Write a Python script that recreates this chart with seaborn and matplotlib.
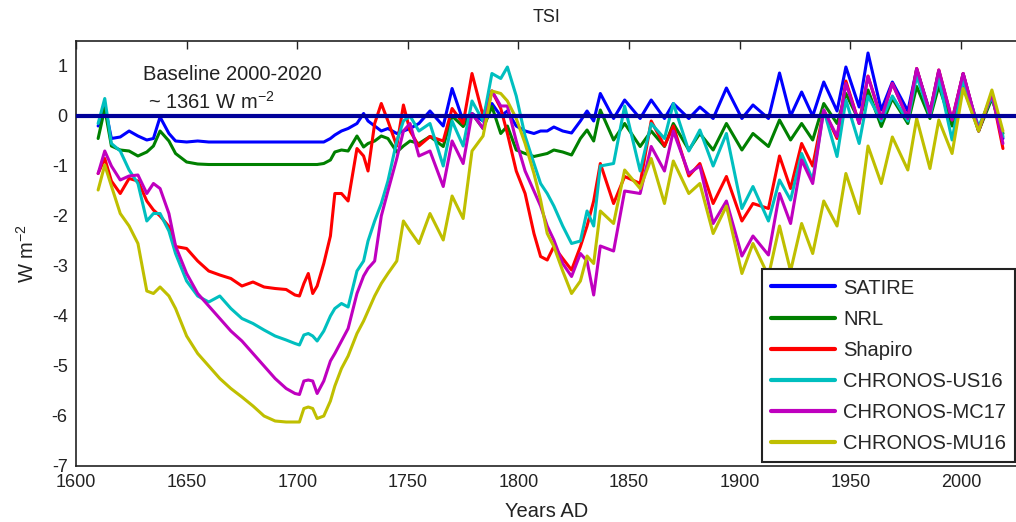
import numpy as np
import pandas as pd
import matplotlib
matplotlib.use("Agg")
import matplotlib.pyplot as plt
import seaborn as sns

years = [1610, 1613, 1616, 1620, 1624, 1628, 1632, 1635, 1638, 1642, 1645, 1650,
         1655, 1660, 1665, 1670, 1675, 1680, 1685, 1690, 1695, 1699, 1701, 1703,
         1705, 1707, 1709, 1712, 1715, 1717, 1720, 1723, 1727, 1730, 1732, 1735,
         1738, 1741, 1745, 1748, 1751, 1755, 1760, 1766, 1770, 1775, 1779, 1784,
         1788, 1792, 1795, 1799, 1803, 1807, 1810, 1813, 1816, 1820, 1824, 1828,
         1831, 1834, 1837, 1843, 1848, 1855, 1860, 1866, 1870, 1877, 1882, 1888,
         1894, 1901, 1906, 1913, 1918, 1923, 1928, 1933, 1938, 1944, 1948, 1954,
         1958, 1964, 1969, 1976, 1980, 1986, 1990, 1996, 2001, 2008, 2014, 2019]

satire = [-0.2, 0.2, -0.45, -0.42, -0.3, -0.4, -0.48, -0.45, -0.02, -0.35, -0.5, -0.52,
          -0.5, -0.52, -0.52, -0.52, -0.52, -0.52, -0.52, -0.52, -0.52, -0.52, -0.52, -0.52,
          -0.52, -0.52, -0.52, -0.52, -0.45, -0.38, -0.3, -0.25, -0.15, 0.05, -0.1, -0.2,
          -0.3, -0.25, -0.35, -0.3, -0.25, -0.15, 0.1, -0.2, 0.55, -0.1, 0.05, -0.1,
          0.25, 0.0, 0.1, -0.2, -0.3, -0.35, -0.3, -0.3, -0.22, -0.3, -0.34, -0.1,
          0.1, -0.1, 0.45, -0.05, 0.32, -0.05, 0.32, -0.05, 0.25, -0.05, 0.18, -0.05,
          0.56, -0.05, 0.22, -0.05, 0.86, 0.0, 0.48, 0.0, 0.68, 0.1, 0.98, 0.18,
          1.26, 0.12, 0.68, 0.1, 0.94, 0.08, 0.9, -0.12, 0.85, -0.3, 0.45, -0.45]

nrl = [-0.45, 0.15, -0.6, -0.68, -0.7, -0.8, -0.72, -0.6, -0.3, -0.5, -0.75, -0.92,
       -0.96, -0.97, -0.97, -0.97, -0.97, -0.97, -0.97, -0.97, -0.97, -0.97, -0.97, -0.97,
       -0.97, -0.97, -0.97, -0.95, -0.88, -0.72, -0.68, -0.7, -0.4, -0.62, -0.55, -0.5,
       -0.4, -0.45, -0.72, -0.6, -0.5, -0.55, -0.41, -0.61, 0.0, -0.21, 0.05, -0.25,
       0.19, -0.35, -0.2, -0.68, -0.75, -0.81, -0.78, -0.75, -0.68, -0.72, -0.78, -0.45,
       -0.28, -0.5, 0.12, -0.48, -0.15, -0.61, -0.3, -0.61, -0.15, -0.68, -0.35, -0.68,
       -0.15, -0.68, -0.35, -0.61, -0.08, -0.48, -0.15, -0.48, 0.25, -0.15, 0.45, -0.1,
       0.52, -0.21, 0.35, -0.15, 0.59, -0.05, 0.6, -0.2, 0.6, -0.3, 0.35, -0.35]

shapiro = [-1.15, -0.85, -1.3, -1.55, -1.25, -1.3, -1.7, -1.88, -2.0, -2.21, -2.61, -2.65,
           -2.9, -3.1, -3.18, -3.25, -3.4, -3.32, -3.42, -3.45, -3.47, -3.58, -3.6, -3.35,
           -3.15, -3.55, -3.4, -2.95, -2.4, -1.55, -1.55, -1.7, -0.65, -0.8, -1.1, -0.15,
           0.25, -0.1, -0.6, 0.22, -0.3, -0.6, -0.41, -0.5, 0.15, -0.15, 0.85, 0.0,
           0.5, 0.15, -0.35, -1.1, -1.55, -2.35, -2.81, -2.88, -2.61, -2.85, -3.08, -2.61,
           -2.2, -1.7, -0.95, -1.75, -1.21, -1.35, -0.1, -0.6, -0.2, -1.2, -0.95, -1.75,
           -1.21, -2.1, -1.75, -1.85, -0.8, -1.45, -0.55, -1.0, 0.12, -0.45, 0.7, -0.15,
           0.8, -0.05, 0.65, -0.05, 0.95, 0.05, 0.92, -0.08, 0.85, -0.3, 0.45, -0.65]

chronos_us16 = [-0.15, 0.35, -0.55, -0.7, -1.08, -1.35, -2.1, -1.95, -1.95, -2.3, -2.75, -3.3,
                -3.6, -3.72, -3.6, -3.85, -4.05, -4.15, -4.28, -4.4, -4.48, -4.55, -4.58, -4.38,
                -4.35, -4.4, -4.5, -4.3, -4.0, -3.85, -3.75, -3.82, -3.1, -2.9, -2.5, -2.1,
                -1.75, -1.3, -0.5, -0.1, 0.0, -0.3, -0.15, -1.0, -0.1, -0.6, 0.3, -0.1,
                0.85, 0.75, 0.98, 0.4, -0.4, -0.95, -1.35, -1.55, -1.8, -2.2, -2.55, -2.5,
                -1.9, -2.2, -1.0, -0.95, 0.2, -1.1, -0.15, -0.45, 0.25, -0.7, -0.28, -1.0,
                -0.35, -1.85, -1.41, -2.1, -1.28, -1.68, -0.75, -1.28, 0.12, -0.81, 0.32, -0.55,
                0.4, -0.1, 0.4, -0.1, 0.8, 0.0, 0.75, -0.48, 0.72, -0.21, 0.39, -0.41]

chronos_mc17 = [-1.15, -0.7, -1.0, -1.28, -1.2, -1.18, -1.55, -1.35, -1.45, -1.95, -2.6, -3.15,
                -3.55, -3.8, -4.05, -4.3, -4.5, -4.75, -5.0, -5.25, -5.45, -5.55, -5.57, -5.3,
                -5.28, -5.3, -5.55, -5.3, -4.9, -4.75, -4.5, -4.25, -3.55, -3.2, -3.05, -2.9,
                -2.0, -1.5, -0.85, -0.3, -0.15, -0.8, -0.7, -1.41, -0.5, -0.95, 0.05, -0.25,
                0.5, 0.2, 0.2, -0.5, -1.1, -1.5, -1.8, -2.2, -2.48, -2.95, -3.21, -2.75,
                -2.9, -3.58, -2.6, -2.7, -1.5, -1.55, -0.61, -1.1, -0.3, -1.15, -1.0, -2.15,
                -1.7, -2.8, -2.4, -2.78, -1.55, -2.15, -0.88, -1.35, 0.12, -0.41, 0.65, -0.15,
                0.79, -0.05, 0.65, -0.05, 0.95, 0.05, 0.92, -0.08, 0.85, -0.28, 0.45, -0.55]

chronos_mu16 = [-1.48, -0.98, -1.4, -1.95, -2.2, -2.55, -3.5, -3.55, -3.42, -3.6, -3.85, -4.4,
                -4.75, -5.0, -5.25, -5.45, -5.62, -5.8, -6.0, -6.1, -6.12, -6.12, -6.12, -5.85,
                -5.82, -5.85, -6.05, -6.0, -5.7, -5.4, -5.05, -4.8, -4.35, -4.1, -3.9, -3.6,
                -3.35, -3.15, -2.9, -2.1, -2.3, -2.55, -1.95, -2.48, -1.6, -2.05, -0.7, -0.4,
                0.5, 0.45, 0.3, -0.05, -0.55, -1.15, -1.68, -2.35, -2.61, -3.1, -3.55, -3.3,
                -2.8, -2.95, -1.9, -2.15, -1.08, -1.45, -0.85, -1.75, -0.9, -1.55, -1.35, -2.35,
                -1.8, -3.15, -2.55, -3.2, -2.2, -3.1, -2.15, -2.75, -1.7, -2.2, -1.15, -1.95,
                -0.6, -1.35, -0.42, -1.08, -0.05, -1.05, -0.08, -0.75, 0.55, -0.3, 0.52, -0.3]

model_names = ["SATIRE", "NRL", "Shapiro", "CHRONOS-US16", "CHRONOS-MC17", "CHRONOS-MU16"]
model_values = [satire, nrl, shapiro, chronos_us16, chronos_mc17, chronos_mu16]
model_colors = [(0, 0, 1), (0, 0.5, 0), (1, 0, 0), (0, 0.75, 0.75), (0.75, 0, 0.75), (0.75, 0.75, 0)]

xticks = [1600, 1650, 1700, 1750, 1800, 1850, 1900, 1950, 2000]
yticks = [-7, -6, -5, -4, -3, -2, -1, 0, 1]

df = pd.concat([pd.DataFrame({"year": years, "tsi": v, "model": n})
                for n, v in zip(model_names, model_values)], ignore_index=True)

sns.set_theme(style="white")
plt.rcParams["font.family"] = ["Liberation Sans", "DejaVu Sans"]
plt.rcParams["axes.unicode_minus"] = False
plt.rcParams["mathtext.default"] = "regular"

FS = 13
FS2 = 14.5
TXT = "#222222"
fig = plt.figure(figsize=(10.16, 5.22), dpi=100)
ax = fig.add_axes([76 / 1016, 1 - 466 / 522, 942 / 1016, 425 / 522])

sns.lineplot(data=df, x="year", y="tsi", hue="model", hue_order=model_names,
             palette=dict(zip(model_names, model_colors)), linewidth=2.2,
             estimator=None, ax=ax)
ax.axhline(0, color=(0, 0, 0.6), linewidth=3, zorder=5)

ax.set_xlim(1600, 2025.8)
ax.set_ylim(-7, 1.5)
ax.set_xticks(xticks)
ax.set_yticks(yticks)
ax.tick_params(direction="in", top=True, right=False, length=6, width=1,
               labelsize=FS, colors=TXT, pad=6)
for s in ax.spines.values():
    s.set_color(TXT)
    s.set_linewidth(1.2)

ax.set_title("TSI", fontsize=FS, color=TXT, pad=14)
ax.set_xlabel("Years AD", fontsize=FS2, color=TXT, labelpad=8)
ax.set_ylabel("W m$^{-2}$", fontsize=FS2, color=TXT, labelpad=10)

fig.text(143 / 1016, 1 - 75 / 522, "Baseline 2000-2020", fontsize=FS2,
         color=TXT, va="center", ha="left")
fig.text(148 / 1016, 1 - 102 / 522, "~ 1361 W m$^{-2}$", fontsize=FS2,
         color=TXT, va="center", ha="left")

leg = ax.legend(loc="lower right", bbox_to_anchor=(0.997, 0.0094), borderaxespad=0,
                fontsize=FS2, handlelength=3.2, handletextpad=0.4, labelspacing=0.6,
                borderpad=0.45, fancybox=False, framealpha=1, edgecolor=TXT)
leg.get_frame().set_linewidth(1.5)
for h in leg.get_lines():
    h.set_linewidth(3)

fig.savefig("out.png", dpi=100)
